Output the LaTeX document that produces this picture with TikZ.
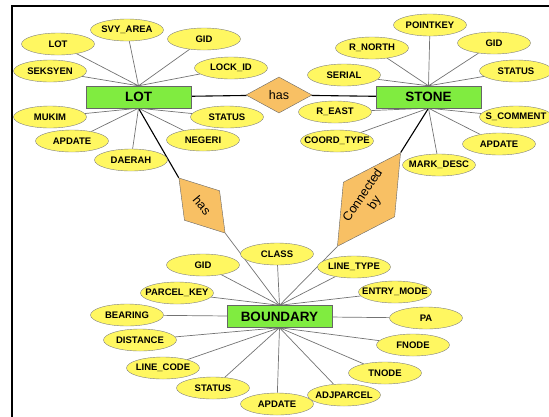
\documentclass[tikz,border=0pt]{standalone}
\usepackage{fontspec}
\setmainfont{Liberation Sans}
\usepackage{tikz}
\usetikzlibrary{shapes.geometric}
\usetikzlibrary{backgrounds}
\colorlet{attrfill}{yellow!62}
\definecolor{entfill}{RGB}{128,236,64}
\definecolor{relfill}{RGB}{248,192,100}
\newcommand{\attrlbl}[1]{\makebox[0pt]{#1}}
\tikzset{attr/.style={ellipse,draw=black!50,fill=attrfill,minimum width=73pt,minimum height=22pt,inner sep=0pt,font=\bfseries\fontsize{9.5}{10}\selectfont}}
\tikzset{ent/.style={rectangle,draw=black!60,fill=entfill,minimum width=105pt,minimum height=22pt,inner sep=0pt,font=\bfseries\fontsize{13.5}{14}\selectfont}}
\tikzset{rel/.style={diamond,draw=black!60,fill=relfill,inner sep=0pt,font=\fontsize{12.5}{14}\selectfont}}
\tikzset{attrline/.style={black!55,line width=0.7pt}}
\tikzset{relline/.style={black,line width=1.1pt}}

\begin{document}
\begin{tikzpicture}[x=1pt,y=-1pt]
    \useasboundingbox (0,0) rectangle (549,416);
    \draw[line width=2pt] (12,420) -- (12,6) -- (552,6);

    % entities and relationships
    \node[ent] (LOT) at (138.5,97) {LOT};
    \node[ent] (STONE) at (428.5,97) {STONE};
    \node[ent] (BOUNDARY) at (279.5,316.5) {BOUNDARY};
    \node[rel,minimum width=66pt,minimum height=36pt] (hasA) at (279,95) {has};
    \node[rel,minimum width=72pt,minimum height=46pt,rotate=-50] (hasB) at (202,205.5) {has};
    \node[rel,minimum width=113pt,minimum height=62pt,aspect=1.8,align=center,rotate=56] (conn) at (369,199.5) {Connected\\by};

    % LOT attributes
    \node[attr] (lLot) at (58,44) {\attrlbl{LOT}};
    \node[attr] (lSvy) at (127,30) {\attrlbl{SVY\_AREA}};
    \node[attr] (lGid) at (204,39) {\attrlbl{GID}};
    \node[attr] (lSeksyen) at (50,71) {\attrlbl{SEKSYEN}};
    \node[attr] (lLock) at (231,68) {\attrlbl{LOCK\_ID}};
    \node[attr] (lMukim) at (50,117) {\attrlbl{MUKIM}};
    \node[attr] (lStatus) at (227,117) {\attrlbl{STATUS}};
    \node[attr] (lApdate) at (72,141) {\attrlbl{APDATE}};
    \node[attr] (lNegeri) at (203,140) {\attrlbl{NEGERI}};
    \node[attr] (lDaerah) at (131,160) {\attrlbl{DAERAH}};

    % STONE attributes
    \node[attr] (sPoint) at (430,25) {\attrlbl{POINTKEY}};
    \node[attr] (sNorth) at (372,48) {\attrlbl{R\_NORTH}};
    \node[attr] (sGid) at (494,43) {\attrlbl{GID}};
    \node[attr] (sSerial) at (344,75) {\attrlbl{SERIAL}};
    \node[attr] (sStatus) at (516,71) {\attrlbl{STATUS}};
    \node[attr] (sEast) at (335,112) {\attrlbl{R\_EAST}};
    \node[attr] (sComment) at (516,117) {\attrlbl{S\_COMMENT}};
    \node[attr] (sCoord) at (337,141) {\attrlbl{COORD\_TYPE}};
    \node[attr] (sApdate) at (499,144) {\attrlbl{APDATE}};
    \node[attr] (sMark) at (439,165) {\attrlbl{MARK\_DESC}};

    % BOUNDARY attributes
    \node[attr] (bClass) at (277,254) {\attrlbl{CLASS}};
    \node[attr] (bGid) at (203,265) {\attrlbl{GID}};
    \node[attr] (bLineType) at (354,267) {\attrlbl{LINE\_TYPE}};
    \node[attr] (bParcel) at (177,293) {\attrlbl{PARCEL\_KEY}};
    \node[attr] (bEntry) at (395,292) {\attrlbl{ENTRY\_MODE}};
    \node[attr] (bBearing) at (127,315) {\attrlbl{BEARING}};
    \node[attr] (bPa) at (426,318) {\attrlbl{PA}};
    \node[attr] (bDistance) at (140,340) {\attrlbl{DISTANCE}};
    \node[attr] (bFnode) at (413,345) {\attrlbl{FNODE}};
    \node[attr] (bLineCode) at (163,368) {\attrlbl{LINE\_CODE}};
    \node[attr] (bTnode) at (385,373) {\attrlbl{TNODE}};
    \node[attr] (bStatus) at (213,388) {\attrlbl{STATUS}};
    \node[attr] (bAdj) at (344,395) {\attrlbl{ADJPARCEL}};
    \node[attr] (bApdate) at (277,404) {\attrlbl{APDATE}};

    \begin{scope}[on background layer]
        \draw[relline] (LOT) -- (hasA) -- (STONE);
        \draw[relline] (LOT.south) -- (hasB.west);
        \draw[relline] (STONE.south) -- (conn.east);
        \draw[attrline] (hasB.east) -- (BOUNDARY.north);
        \draw[attrline] (conn.west) -- (BOUNDARY.north);

        \draw[attrline] (lLot) -- (LOT.north) (lSvy) -- (LOT.north) (lGid) -- (LOT.north)
            (lSeksyen) -- (LOT.north) (lLock) -- (LOT.north);
        \draw[attrline] (lMukim) -- (LOT.south) (lStatus) -- (LOT.south) (lApdate) -- (LOT.south)
            (lNegeri) -- (LOT.south) (lDaerah) -- (LOT.south);

        \draw[attrline] (sPoint) -- (STONE.north) (sNorth) -- (STONE.north) (sGid) -- (STONE.north)
            (sSerial) -- (STONE.north) (sStatus) -- (STONE.north);
        \draw[attrline] (sEast) -- (STONE.south) (sComment) -- (STONE.south) (sCoord) -- (STONE.south)
            (sApdate) -- (STONE.south) (sMark) -- (STONE.south);

        \draw[attrline] (bClass) -- (BOUNDARY.north) (bGid) -- (BOUNDARY.north) (bLineType) -- (BOUNDARY.north)
            (bParcel) -- (BOUNDARY.north) (bEntry) -- (BOUNDARY.north);
        \draw[attrline] (bBearing) -- (BOUNDARY) (bPa) -- (BOUNDARY);
        \draw[attrline] (bDistance) -- (BOUNDARY.south) (bFnode) -- (BOUNDARY.south) (bLineCode) -- (BOUNDARY.south)
            (bTnode) -- (BOUNDARY.south) (bStatus) -- (BOUNDARY.south) (bAdj) -- (BOUNDARY.south)
            (bApdate) -- (BOUNDARY.south);
    \end{scope}
\end{tikzpicture}
\end{document}
